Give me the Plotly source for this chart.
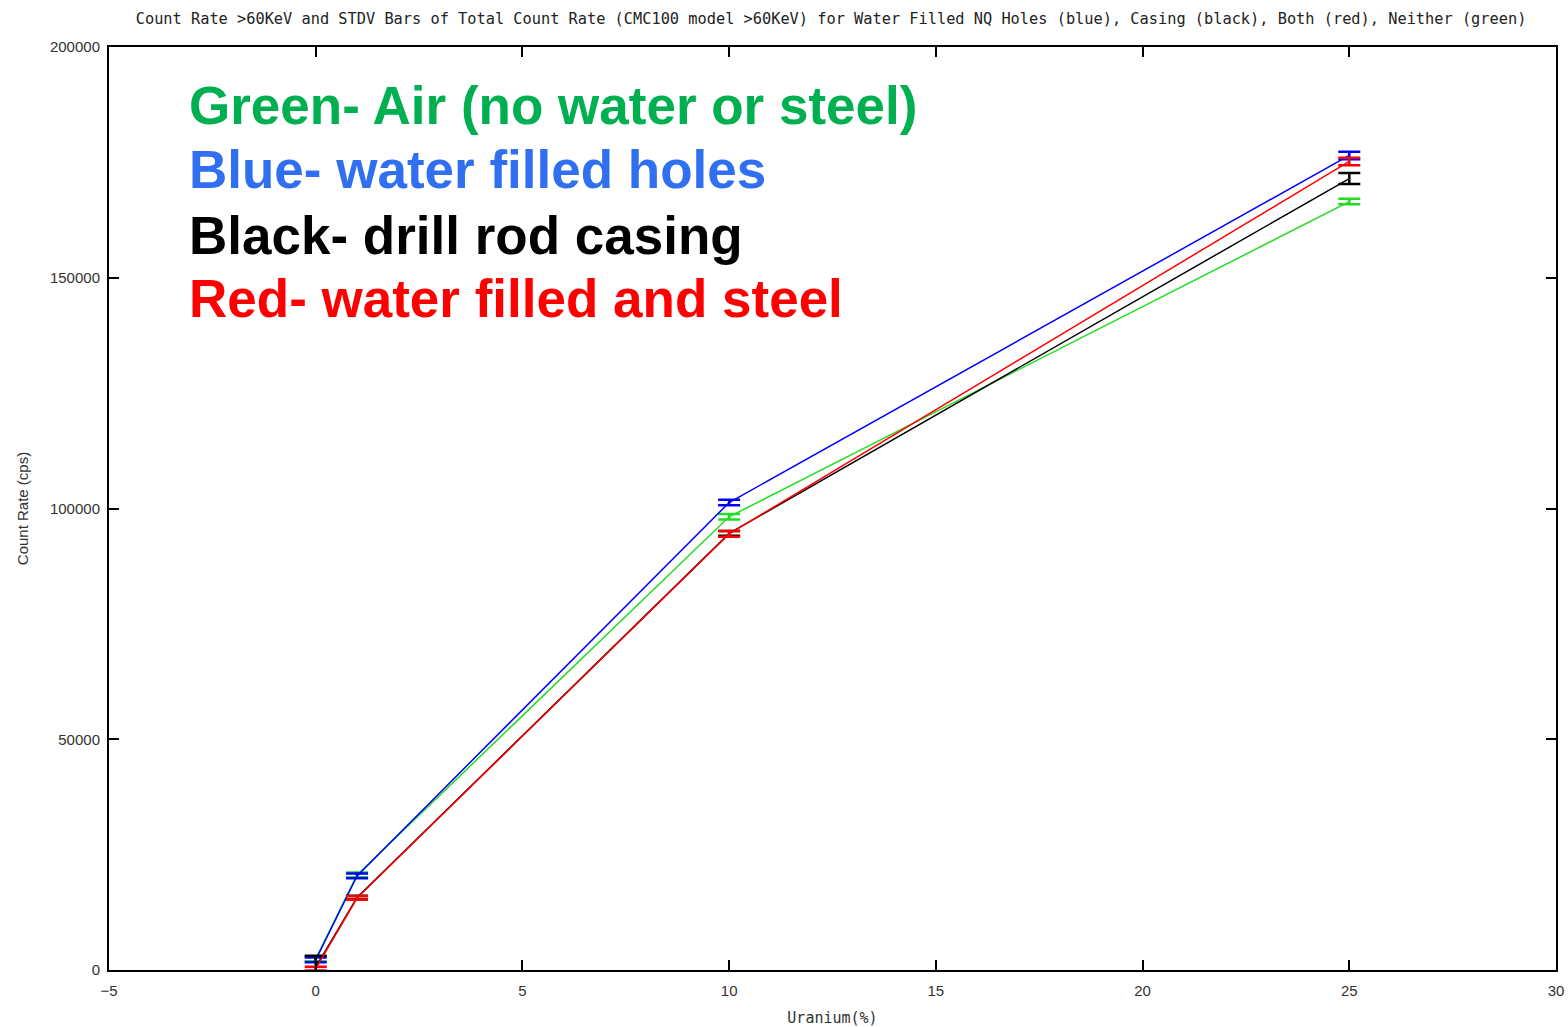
import plotly.graph_objects as go

uranium = [0, 1, 10, 25]
green_air = [2400, 20600, 98200, 166500]
blue_water = [2200, 20400, 101300, 176500]
black_casing = [600, 15700, 94600, 171500]
red_both = [300, 15600, 94500, 175200]

green_err = [500, 500, 600, 600]
blue_err = [500, 500, 600, 800]
black_err = [2500, 400, 500, 1200]
red_err = [400, 400, 600, 800]

series = [
    ("Neither", green_air, green_err, "#22dd22"),
    ("Water", blue_water, blue_err, "#0000ff"),
    ("Casing", black_casing, black_err, "#000000"),
    ("Both", red_both, red_err, "#ff0000"),
]

legend_lines = [
    ("Green- Air (no water or steel)", "#00b050"),
    ("Blue- water filled holes", "#2f6ff0"),
    ("Black- drill rod casing", "#000000"),
    ("Red- water filled and steel", "#ff0000"),
]

title = ("Count Rate >60KeV and STDV Bars of Total Count Rate (CMC100 model >60KeV) "
         "for Water Filled NQ Holes (blue), Casing (black), Both (red), Neither (green)")

fig = go.Figure()
for name, ys, err, col in series:
    fig.add_trace(go.Scatter(
        x=uranium, y=ys, mode="lines", name=name,
        line=dict(color=col, width=1.5),
        error_y=dict(type="data", array=err, visible=True, color=col, thickness=2.5, width=11),
    ))

ypos = [0.937, 0.867, 0.796, 0.728]
for (txt, col), yp in zip(legend_lines, ypos):
    fig.add_annotation(text=txt, xref="paper", yref="paper", x=0.054, y=yp,
                       xanchor="left", yanchor="middle", showarrow=False,
                       font=dict(family="Liberation Sans, Arial", size=53, color=col, weight="bold"))

axis_common = dict(showline=True, linecolor="black", linewidth=2, mirror="allticks",
                   ticks="inside", ticklen=10, tickwidth=1.5, tickcolor="black",
                   showgrid=False, zeroline=False, automargin=False, tickformat="d",
                   tickfont=dict(family="Liberation Sans, Arial", size=15, color="#333333"))

fig.update_layout(
    width=1568, height=1027,
    margin=dict(l=109, r=12, t=47, b=57),
    paper_bgcolor="white", plot_bgcolor="white",
    showlegend=False,
    title=dict(text=title, x=0.53, xanchor="center", y=0.982, yanchor="middle",
               font=dict(family="DejaVu Sans Mono", size=15.3, color="#222222")),
    xaxis=dict(range=[-5, 30], dtick=5, ticklabelstandoff=6,
               title=dict(text="Uranium(%)", standoff=14,
                          font=dict(family="DejaVu Sans Mono", size=15, color="#333333")),
               **axis_common),
    yaxis=dict(range=[0, 200000], dtick=50000, ticklabelstandoff=4,
               title=dict(text="Count Rate (cps)", standoff=18,
                          font=dict(family="Liberation Sans, Arial", size=15, color="#333333")),
               **axis_common),
)

fig.write_html("out.html")
